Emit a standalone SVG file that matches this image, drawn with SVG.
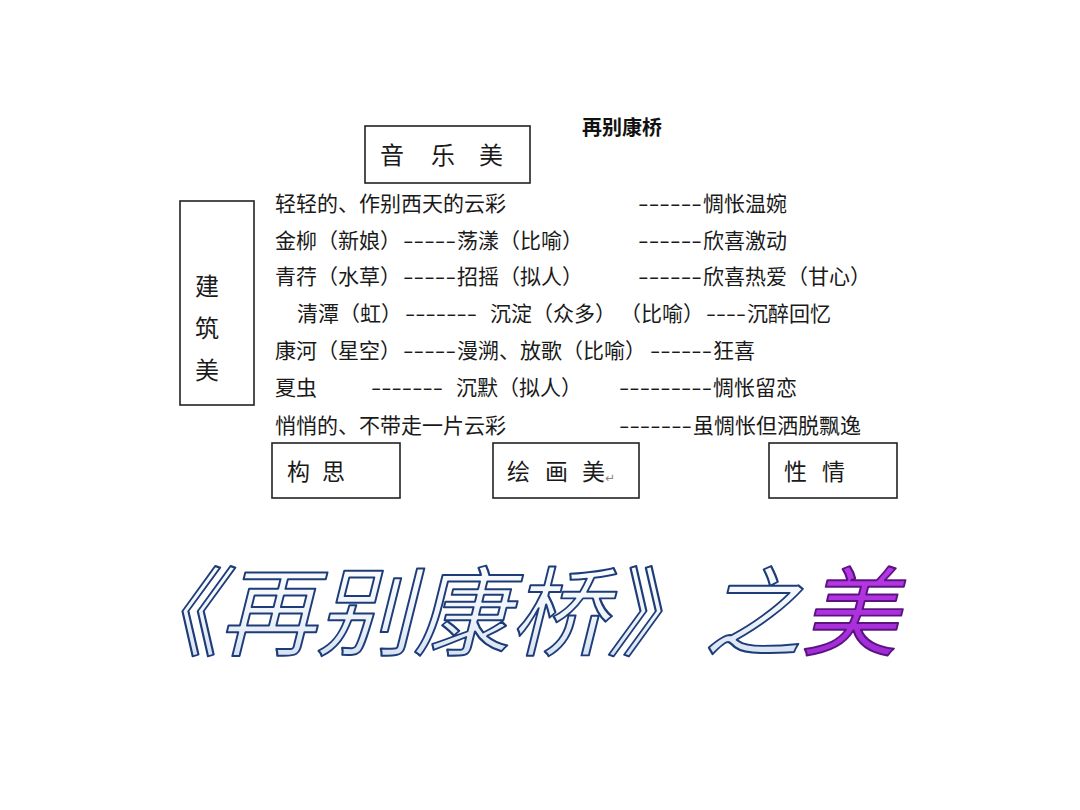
<svg xmlns="http://www.w3.org/2000/svg" width="1080" height="810" viewBox="0 0 1080 810">
<defs>
<style>
.t{font-family:"Noto Sans CJK SC","Noto Sans CJK TC",sans-serif;font-size:21px;fill:#1a1a1a}
.box{fill:#fff;stroke:#222;stroke-width:1.6}
.bt{font-family:"Noto Sans CJK SC",sans-serif;font-size:24px;fill:#1a1a1a}
.bb{font-family:"Noto Sans CJK SC",sans-serif;font-size:23px;fill:#1a1a1a}
.big{font-family:"Noto Sans CJK SC",sans-serif;font-size:97px;font-weight:400;stroke-width:2;stroke-linejoin:round}
</style>
<linearGradient id="gb" x1="0" y1="0" x2="0" y2="1">
<stop offset="0" stop-color="#ffffff"/>
<stop offset="0.6" stop-color="#eef3fa"/>
<stop offset="1" stop-color="#c9d8ee"/>
</linearGradient>
<linearGradient id="gp" x1="0" y1="0" x2="1" y2="1">
<stop offset="0" stop-color="#e44cff"/>
<stop offset="1" stop-color="#9a28d2"/>
</linearGradient>
</defs>
<rect width="1080" height="810" fill="#fff"/>

<g id="title">
<text x="622" y="135" text-anchor="middle" style="font-family:'Noto Sans CJK SC',sans-serif;font-size:20px;font-weight:700;fill:#111">再别康桥</text>
</g>

<g id="node-music">
<rect class="box" x="365" y="126" width="165" height="57"/>
<text class="bt" y="164"><tspan x="380">音</tspan><tspan x="431">乐</tspan><tspan x="479">美</tspan></text>
</g>

<g id="node-architecture">
<rect class="box" x="180" y="201" width="74" height="204"/>
<text class="bt" x="207" y="295" text-anchor="middle">建</text>
<text class="bt" x="207" y="337" text-anchor="middle">筑</text>
<text class="bt" x="207" y="379" text-anchor="middle">美</text>
</g>

<g id="lines">
<text class="t" x="275" y="211">轻轻的、作别西天的云彩</text>
<text class="t" x="638" y="211" textLength="64" lengthAdjust="spacingAndGlyphs">------</text>
<text class="t" x="703" y="211">惆怅温婉</text>

<text class="t" x="275" y="248">金柳（新娘）</text>
<text class="t" x="403" y="248" textLength="53" lengthAdjust="spacingAndGlyphs">-----</text>
<text class="t" x="457" y="248">荡漾（比喻）</text>
<text class="t" x="638" y="248" textLength="64" lengthAdjust="spacingAndGlyphs">------</text>
<text class="t" x="703" y="248">欣喜激动</text>

<text class="t" x="275" y="284">青荇（水草）</text>
<text class="t" x="403" y="284" textLength="53" lengthAdjust="spacingAndGlyphs">-----</text>
<text class="t" x="457" y="284">招摇（拟人）</text>
<text class="t" x="638" y="284" textLength="64" lengthAdjust="spacingAndGlyphs">------</text>
<text class="t" x="703" y="284">欣喜热爱（甘心）</text>

<text class="t" x="297" y="321">清潭（虹）</text>
<text class="t" x="405" y="321" textLength="72" lengthAdjust="spacingAndGlyphs">-------</text>
<text class="t" x="490" y="321">沉淀（众多）</text>
<text class="t" x="620" y="321">（比喻）</text>
<text class="t" x="706" y="321" textLength="40" lengthAdjust="spacingAndGlyphs">----</text>
<text class="t" x="747" y="321">沉醉回忆</text>

<text class="t" x="275" y="358">康河（星空）</text>
<text class="t" x="403" y="358" textLength="53" lengthAdjust="spacingAndGlyphs">-----</text>
<text class="t" x="457" y="358">漫溯、放歌（比喻）</text>
<text class="t" x="650" y="358" textLength="62" lengthAdjust="spacingAndGlyphs">------</text>
<text class="t" x="713" y="358">狂喜</text>

<text class="t" x="275" y="395">夏虫</text>
<text class="t" x="371" y="395" textLength="72" lengthAdjust="spacingAndGlyphs">-------</text>
<text class="t" x="456" y="395">沉默（拟人）</text>
<text class="t" x="619" y="395" textLength="93" lengthAdjust="spacingAndGlyphs">---------</text>
<text class="t" x="713" y="395">惆怅留恋</text>

<text class="t" x="275" y="433">悄悄的、不带走一片云彩</text>
<text class="t" x="619" y="433" textLength="73" lengthAdjust="spacingAndGlyphs">-------</text>
<text class="t" x="693" y="433">虽惆怅但洒脱飘逸</text>
</g>

<g id="node-conception">
<rect class="box" x="272" y="443" width="128" height="55"/>
<text class="bb" y="480"><tspan x="287">构</tspan><tspan x="322">思</tspan></text>
</g>

<g id="node-painting">
<rect class="box" x="493" y="443" width="146" height="55"/>
<text class="bb" y="480"><tspan x="507">绘</tspan><tspan x="545">画</tspan><tspan x="582">美</tspan></text>
<text x="605" y="482" style="font-family:'DejaVu Sans',sans-serif;font-size:12px;fill:#888">↵</text>
</g>

<g id="node-temperament">
<rect class="box" x="769" y="443" width="128" height="55"/>
<text class="bb" y="480"><tspan x="784">性</tspan><tspan x="822">情</tspan></text>
</g>

<g id="big-title" transform="translate(0,648) skewX(-14)">
<text class="big" x="122" y="0" fill="url(#gb)" stroke="#1d3c78">《再别康桥》之<tspan fill="url(#gp)" stroke="#5a1480">美</tspan></text>
</g>
</svg>
